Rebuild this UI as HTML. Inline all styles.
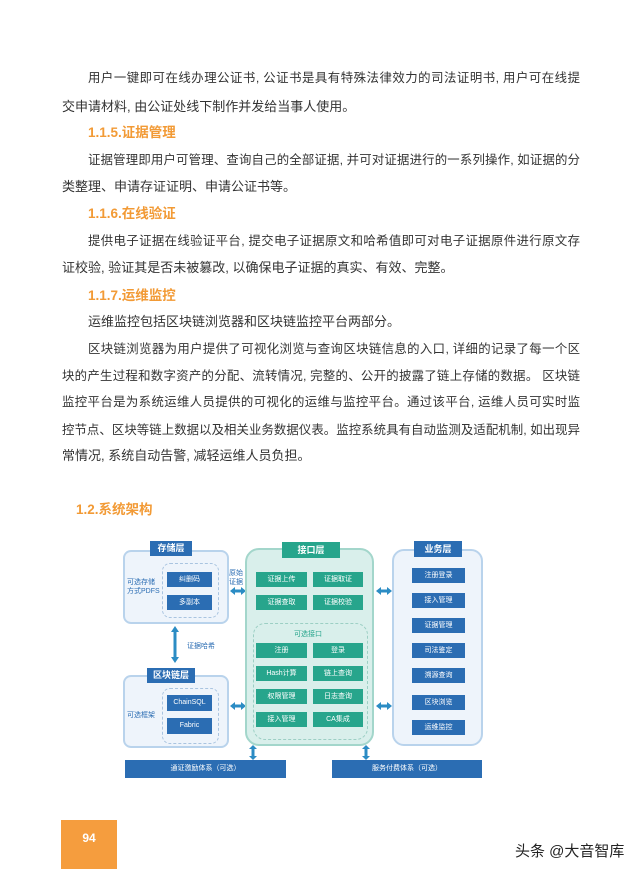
<!DOCTYPE html>
<html><head><meta charset="utf-8"><style>
body{margin:0;width:640px;height:869px;background:#fff;position:relative;overflow:hidden;font-family:"Liberation Sans","Noto Sans CJK SC",sans-serif;}
.l{position:absolute;height:20px;line-height:20px;font-size:13px;color:#333;white-space:nowrap;}
.j{text-align:justify;text-align-last:justify;white-space:normal;font-size:12.4px;overflow:hidden;}
.h{position:absolute;height:20px;line-height:20px;font-size:13.5px;color:#f29a35;font-weight:bold;}
.a{position:absolute;}
.box{position:absolute;box-sizing:border-box;border:2px solid #b9d3ec;background:#eef4fb;border-radius:8px;}
.tab{position:absolute;background:#2b6db3;color:#fff;font-size:9px;text-align:center;font-weight:bold;}
.bi{position:absolute;background:#2b6db3;color:#fff;font-size:7px;text-align:center;line-height:15px;height:15px;}
.ti{position:absolute;background:#27a58c;color:#fff;font-size:7px;text-align:center;line-height:15px;height:15px;}
.dash{position:absolute;box-sizing:border-box;border:1px dashed #a9c4e0;border-radius:8px;}
.lab{position:absolute;font-size:7px;color:#2b6db3;line-height:9px;}
svg.ar{position:absolute;}
</style></head><body>
<div class="l j" style="left:88px;top:68px;width:492px">用户一键即可在线办理公证书, 公证书是具有特殊法律效力的司法证明书, 用户可在线提</div>
<div class="l" style="left:62px;top:97px">交申请材料, 由公证处线下制作并发给当事人使用。</div>
<div class="h" style="left:88px;top:123px">1.1.5.证据管理</div>
<div class="l j" style="left:88px;top:150px;width:492px">证据管理即用户可管理、查询自己的全部证据, 并可对证据进行的一系列操作, 如证据的分</div>
<div class="l" style="left:62px;top:177px">类整理、申请存证证明、申请公证书等。</div>
<div class="h" style="left:88px;top:204px">1.1.6.在线验证</div>
<div class="l j" style="left:88px;top:231px;width:492px">提供电子证据在线验证平台, 提交电子证据原文和哈希值即可对电子证据原件进行原文存</div>
<div class="l" style="left:62px;top:258px">证校验, 验证其是否未被篡改, 以确保电子证据的真实、有效、完整。</div>
<div class="h" style="left:88px;top:286px">1.1.7.运维监控</div>
<div class="l" style="left:88px;top:312px">运维监控包括区块链浏览器和区块链监控平台两部分。</div>
<div class="l j" style="left:88px;top:339px;width:492px">区块链浏览器为用户提供了可视化浏览与查询区块链信息的入口, 详细的记录了每一个区</div>
<div class="l j" style="left:62px;top:366px;width:518px">块的产生过程和数字资产的分配、流转情况, 完整的、公开的披露了链上存储的数据。 区块链</div>
<div class="l j" style="left:62px;top:392px;width:518px">监控平台是为系统运维人员提供的可视化的运维与监控平台。通过该平台, 运维人员可实时监</div>
<div class="l j" style="left:62px;top:420px;width:518px">控节点、区块等链上数据以及相关业务数据仪表。监控系统具有自动监测及适配机制, 如出现异</div>
<div class="l" style="left:62px;top:446px">常情况, 系统自动告警, 减轻运维人员负担。</div>
<div class="h" style="left:76px;top:500px">1.2.系统架构</div>

<!-- storage -->
<div class="box" style="left:123px;top:550px;width:106px;height:74px"></div>
<div class="tab" style="left:150px;top:541px;width:42px;height:15px;line-height:15px">存储层</div>
<div class="dash" style="left:162px;top:563px;width:57px;height:55px"></div>
<div class="bi" style="left:167px;top:572px;width:45px">纠删码</div>
<div class="bi" style="left:167px;top:595px;width:45px">多副本</div>
<div class="lab" style="left:127px;top:578px">可选存储<br>方式PDFS</div>
<div class="lab" style="left:229px;top:569px">原始<br>证据</div>
<svg class="ar" style="left:230px;top:587px" width="16" height="8"><path d="M0 4 L5 0 L5 2.5 L11 2.5 L11 0 L16 4 L11 8 L11 5.5 L5 5.5 L5 8 Z" fill="#2b8cc4"/></svg>
<svg class="ar" style="left:171px;top:626px" width="8" height="37"><path d="M4 0 L8 6 L5.5 6 L5.5 31 L8 31 L4 37 L0 31 L2.5 31 L2.5 6 L0 6 Z" fill="#2b8cc4"/></svg>
<div class="lab" style="left:187px;top:642px">证据哈希</div>
<!-- blockchain -->
<div class="box" style="left:123px;top:675px;width:106px;height:73px"></div>
<div class="tab" style="left:147px;top:668px;width:48px;height:15px;line-height:15px">区块链层</div>
<div class="dash" style="left:162px;top:688px;width:57px;height:56px"></div>
<div class="bi" style="left:167px;top:695px;width:45px;height:16px">ChainSQL</div>
<div class="bi" style="left:167px;top:718px;width:45px;height:16px">Fabric</div>
<div class="lab" style="left:127px;top:711px">可选框架</div>
<svg class="ar" style="left:230px;top:702px" width="16" height="8"><path d="M0 4 L5 0 L5 2.5 L11 2.5 L11 0 L16 4 L11 8 L11 5.5 L5 5.5 L5 8 Z" fill="#2b8cc4"/></svg>
<!-- interface -->
<div class="box" style="left:245px;top:548px;width:129px;height:198px;background:#d9efeb;border-color:#a3d6cb;border-radius:14px"></div>
<div class="tab" style="left:282px;top:542px;width:58px;height:16px;line-height:16px;background:#27a58c">接口层</div>
<div class="ti" style="left:256px;top:572px;width:51px">证据上传</div>
<div class="ti" style="left:313px;top:572px;width:50px">证据取证</div>
<div class="ti" style="left:256px;top:595px;width:51px">证据查取</div>
<div class="ti" style="left:313px;top:595px;width:50px">证据校验</div>
<div class="dash" style="left:253px;top:623px;width:115px;height:117px;border-color:#9ccfc4;border-radius:12px"></div>
<div class="lab" style="left:294px;top:630px;color:#27a58c">可选接口</div>
<div class="ti" style="left:256px;top:643px;width:51px">注册</div>
<div class="ti" style="left:313px;top:643px;width:50px">登录</div>
<div class="ti" style="left:256px;top:666px;width:51px">Hash计算</div>
<div class="ti" style="left:313px;top:666px;width:50px">链上查询</div>
<div class="ti" style="left:256px;top:689px;width:51px">权限管理</div>
<div class="ti" style="left:313px;top:689px;width:50px">日志查询</div>
<div class="ti" style="left:256px;top:712px;width:51px">接入管理</div>
<div class="ti" style="left:313px;top:712px;width:50px">CA集成</div>
<!-- business -->
<div class="box" style="left:392px;top:549px;width:91px;height:197px;border-radius:12px"></div>
<div class="tab" style="left:414px;top:541px;width:48px;height:16px;line-height:16px">业务层</div>
<div class="bi" style="left:412px;top:568px;width:53px">注册登录</div>
<div class="bi" style="left:412px;top:593px;width:53px">接入管理</div>
<div class="bi" style="left:412px;top:618px;width:53px">证据管理</div>
<div class="bi" style="left:412px;top:643px;width:53px">司法鉴定</div>
<div class="bi" style="left:412px;top:668px;width:53px">溯源查询</div>
<div class="bi" style="left:412px;top:695px;width:53px">区块浏览</div>
<div class="bi" style="left:412px;top:720px;width:53px">运维监控</div>
<svg class="ar" style="left:376px;top:587px" width="16" height="8"><path d="M0 4 L5 0 L5 2.5 L11 2.5 L11 0 L16 4 L11 8 L11 5.5 L5 5.5 L5 8 Z" fill="#2b8cc4"/></svg>
<svg class="ar" style="left:376px;top:702px" width="16" height="8"><path d="M0 4 L5 0 L5 2.5 L11 2.5 L11 0 L16 4 L11 8 L11 5.5 L5 5.5 L5 8 Z" fill="#2b8cc4"/></svg>
<svg class="ar" style="left:249px;top:745px" width="8" height="15"><path d="M4 0 L8 4 L5.5 4 L5.5 11 L8 11 L4 15 L0 11 L2.5 11 L2.5 4 L0 4 Z" fill="#2b8cc4"/></svg>
<svg class="ar" style="left:362px;top:745px" width="8" height="15"><path d="M4 0 L8 4 L5.5 4 L5.5 11 L8 11 L4 15 L0 11 L2.5 11 L2.5 4 L0 4 Z" fill="#2b8cc4"/></svg>
<div class="bi" style="left:125px;top:760px;width:161px;height:18px;line-height:18px">通证激励体系（可选）</div>
<div class="bi" style="left:332px;top:760px;width:150px;height:18px;line-height:18px">服务付费体系（可选）</div>

<div class="a" style="left:61px;top:820px;width:56px;height:49px;background:#f59d3e;color:#fff;font-size:12px;font-weight:bold;text-align:center;line-height:36px">94</div>
<div class="a" style="left:515px;top:842px;font-size:15px;color:#222;line-height:20px">头条 @大音智库</div>
</body></html>
